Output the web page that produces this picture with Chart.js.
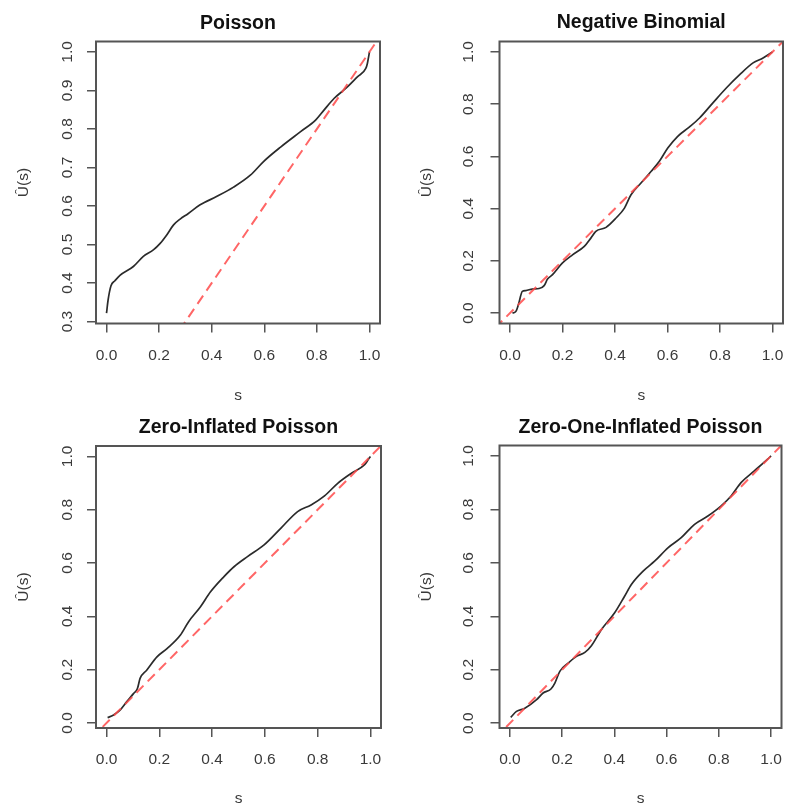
<!DOCTYPE html>
<html>
<head>
<meta charset="utf-8">
<script src="https://cdn.jsdelivr.net/npm/chart.js@4.4.1/dist/chart.umd.min.js"></script>
<style>
  body { margin: 0; background: #fff; }
  #wrap { position: relative; width: 786px; height: 806px; }
  .panel { position: absolute; width: 393px; height: 403px; }
</style>
</head>
<body>
<div id="wrap">
  <div class="panel" style="left:0;top:0"><canvas id="c1" width="393" height="403"></canvas></div>
  <div class="panel" style="left:393px;top:0"><canvas id="c2" width="393" height="403"></canvas></div>
  <div class="panel" style="left:0;top:403px"><canvas id="c3" width="393" height="403"></canvas></div>
  <div class="panel" style="left:393px;top:403px"><canvas id="c4" width="393" height="403"></canvas></div>
</div>
<script>
// values
var sTicks = [0, 0.2, 0.4, 0.6, 0.8, 1.0];
var uTicks = [0, 0.2, 0.4, 0.6, 0.8, 1.0];
var uTicksPoisson = [0.3, 0.4, 0.5, 0.6, 0.7, 0.8, 0.9, 1.0];
var refS = [-0.1, 1.1]; // y = s reference line

var poissonS = [0, 0.006, 0.017, 0.032, 0.051, 0.102, 0.14, 0.178, 0.204, 0.229, 0.255, 0.28, 0.31, 0.356, 0.42, 0.483, 0.547, 0.598, 0.662, 0.738, 0.795, 0.827, 0.865, 0.916, 0.954, 0.986, 0.992, 1.0];
var poissonU = [0.322, 0.356, 0.393, 0.406, 0.420, 0.443, 0.469, 0.486, 0.503, 0.525, 0.551, 0.566, 0.580, 0.603, 0.625, 0.649, 0.680, 0.716, 0.753, 0.793, 0.823, 0.849, 0.879, 0.909, 0.935, 0.957, 0.970, 1.0];

var negbinS = [0.009, 0.022, 0.032, 0.047, 0.06, 0.085, 0.111, 0.13, 0.143, 0.162, 0.2, 0.238, 0.283, 0.308, 0.327, 0.366, 0.404, 0.436, 0.461, 0.499, 0.538, 0.569, 0.601, 0.639, 0.684, 0.722, 0.773, 0.824, 0.875, 0.926, 0.964, 1.0];
var negbinU = [0.0, 0.006, 0.032, 0.083, 0.086, 0.092, 0.094, 0.105, 0.130, 0.147, 0.192, 0.223, 0.255, 0.287, 0.313, 0.328, 0.364, 0.402, 0.453, 0.498, 0.543, 0.581, 0.632, 0.677, 0.713, 0.747, 0.805, 0.862, 0.913, 0.958, 0.977, 1.0];

var zipS = [0.004, 0.025, 0.051, 0.076, 0.102, 0.117, 0.127, 0.152, 0.191, 0.229, 0.28, 0.311, 0.356, 0.394, 0.445, 0.483, 0.534, 0.597, 0.661, 0.724, 0.775, 0.826, 0.877, 0.928, 0.978, 0.991, 1.0];
var zipU = [0.020, 0.029, 0.048, 0.079, 0.110, 0.129, 0.167, 0.198, 0.248, 0.279, 0.330, 0.380, 0.436, 0.492, 0.549, 0.586, 0.624, 0.668, 0.731, 0.793, 0.818, 0.852, 0.900, 0.937, 0.969, 0.987, 1.0];

var zoipS = [0.003, 0.025, 0.057, 0.102, 0.127, 0.157, 0.172, 0.191, 0.223, 0.255, 0.287, 0.312, 0.35, 0.401, 0.439, 0.465, 0.51, 0.554, 0.605, 0.656, 0.707, 0.758, 0.809, 0.847, 0.885, 0.936, 0.987, 1.0];
var zoipU = [0.022, 0.044, 0.056, 0.088, 0.113, 0.128, 0.150, 0.194, 0.225, 0.250, 0.265, 0.290, 0.350, 0.413, 0.475, 0.519, 0.569, 0.606, 0.656, 0.694, 0.744, 0.775, 0.813, 0.850, 0.900, 0.944, 0.988, 1.0];

var FONT = '"Liberation Sans", Arial, Helvetica, sans-serif';
var W = 393, H = 403;

// box around the plot region, like R's box()
var boxPlugin = {
  id: 'rbox',
  afterDraw: function (chart) {
    var a = chart.chartArea, ctx = chart.ctx;
    ctx.save();
    ctx.strokeStyle = '#555';
    ctx.lineWidth = 2;
    ctx.strokeRect(a.left, a.top, a.right - a.left, a.bottom - a.top);
    ctx.restore();
  }
};

function drawPanel(id, title, s, u, yMin, yMax, yTicks, g) {
  var pts = s.map(function (v, i) { return {x: v, y: u[i]}; });
  var ref = refS.map(function (v) { return {x: v, y: v}; });
  var tickFont = {family: FONT, size: 15.5, lineHeight: 1.2};
  var gridOpts = {drawOnChartArea: false, drawTicks: true, tickLength: 9, color: '#555', lineWidth: 1.5};

  new Chart(document.getElementById(id), {
    type: 'scatter',
    data: {
      datasets: [
        {data: ref, showLine: true, borderColor: 'rgba(255,75,75,0.85)', borderWidth: 2,
         borderDash: [10, 6], pointRadius: 0, order: 0},
        {data: pts, showLine: true, borderColor: '#2b2b2b', borderWidth: 1.7,
         pointRadius: 0, cubicInterpolationMode: 'monotone', order: 1}
      ]
    },
    options: {
      responsive: false,
      animation: false,
      devicePixelRatio: 1,
      layout: {padding: {left: 0, right: W - g.right, top: 0, bottom: 0}},
      plugins: {
        legend: {display: false},
        tooltip: {enabled: false},
        title: {
          display: true, text: title, fullSize: false, color: '#111',
          font: {family: FONT, size: 19.5, weight: 'bold', lineHeight: 1},
          padding: {top: g.titleTop, bottom: g.top - g.titleTop - 19.5}
        }
      },
      scales: {
        x: {
          type: 'linear', position: 'bottom', min: -0.04, max: 1.04,
          afterBuildTicks: function (sc) { sc.ticks = sTicks.map(function (v) { return {value: v}; }); },
          afterFit: function (sc) { sc.height = H - g.bottom; sc.paddingLeft = 0; sc.paddingRight = 0; },
          ticks: {autoSkip: false, maxRotation: 0, padding: 13.5, color: '#3a3a3a', font: tickFont,
                  callback: function (v) { return v.toFixed(1); }},
          grid: gridOpts,
          border: {display: false},
          title: {display: true, text: 's', color: '#3a3a3a', font: {family: FONT, size: 15.5, lineHeight: 1},
                  padding: {top: 0, bottom: 0}}
        },
        y: {
          type: 'linear', position: 'left', min: yMin, max: yMax,
          afterBuildTicks: function (sc) { sc.ticks = yTicks.map(function (v) { return {value: v}; }); },
          afterFit: function (sc) { sc.width = g.left; sc.paddingTop = 0; sc.paddingBottom = 0; },
          ticks: {autoSkip: false, minRotation: 90, maxRotation: 90, crossAlign: 'center', padding: g.yTickPad,
                  color: '#3a3a3a', font: tickFont,
                  callback: function (v) { return v.toFixed(1); }},
          grid: gridOpts,
          border: {display: false},
          title: {display: true, text: 'Û(s)', color: '#3a3a3a', font: {family: FONT, size: 15.5, lineHeight: 1},
                  padding: {top: g.yTitlePad, bottom: 0}}
        }
      }
    },
    plugins: [boxPlugin]
  });
}

drawPanel('c1', 'Poisson', poissonS, poissonU, 0.295, 1.027, uTicksPoisson,
  {left: 96, right: 380, top: 41.5, bottom: 323.5, titleTop: 13.5, yTitlePad: 16, yTickPad: 9});
drawPanel('c2', 'Negative Binomial', negbinS, negbinU, -0.04, 1.04, uTicks,
  {left: 106.5, right: 390, top: 41.5, bottom: 323.5, titleTop: 12.5, yTitlePad: 26, yTickPad: 11.5});
drawPanel('c3', 'Zero-Inflated Poisson', zipS, zipU, -0.019, 1.039, uTicks,
  {left: 96, right: 381, top: 43, bottom: 325, titleTop: 15, yTitlePad: 16, yTickPad: 9});
drawPanel('c4', 'Zero-One-Inflated Poisson', zoipS, zoipU, -0.018, 1.039, uTicks,
  {left: 106.5, right: 388.5, top: 42.5, bottom: 325, titleTop: 15, yTitlePad: 26, yTickPad: 11.5});
</script>
</body>
</html>
